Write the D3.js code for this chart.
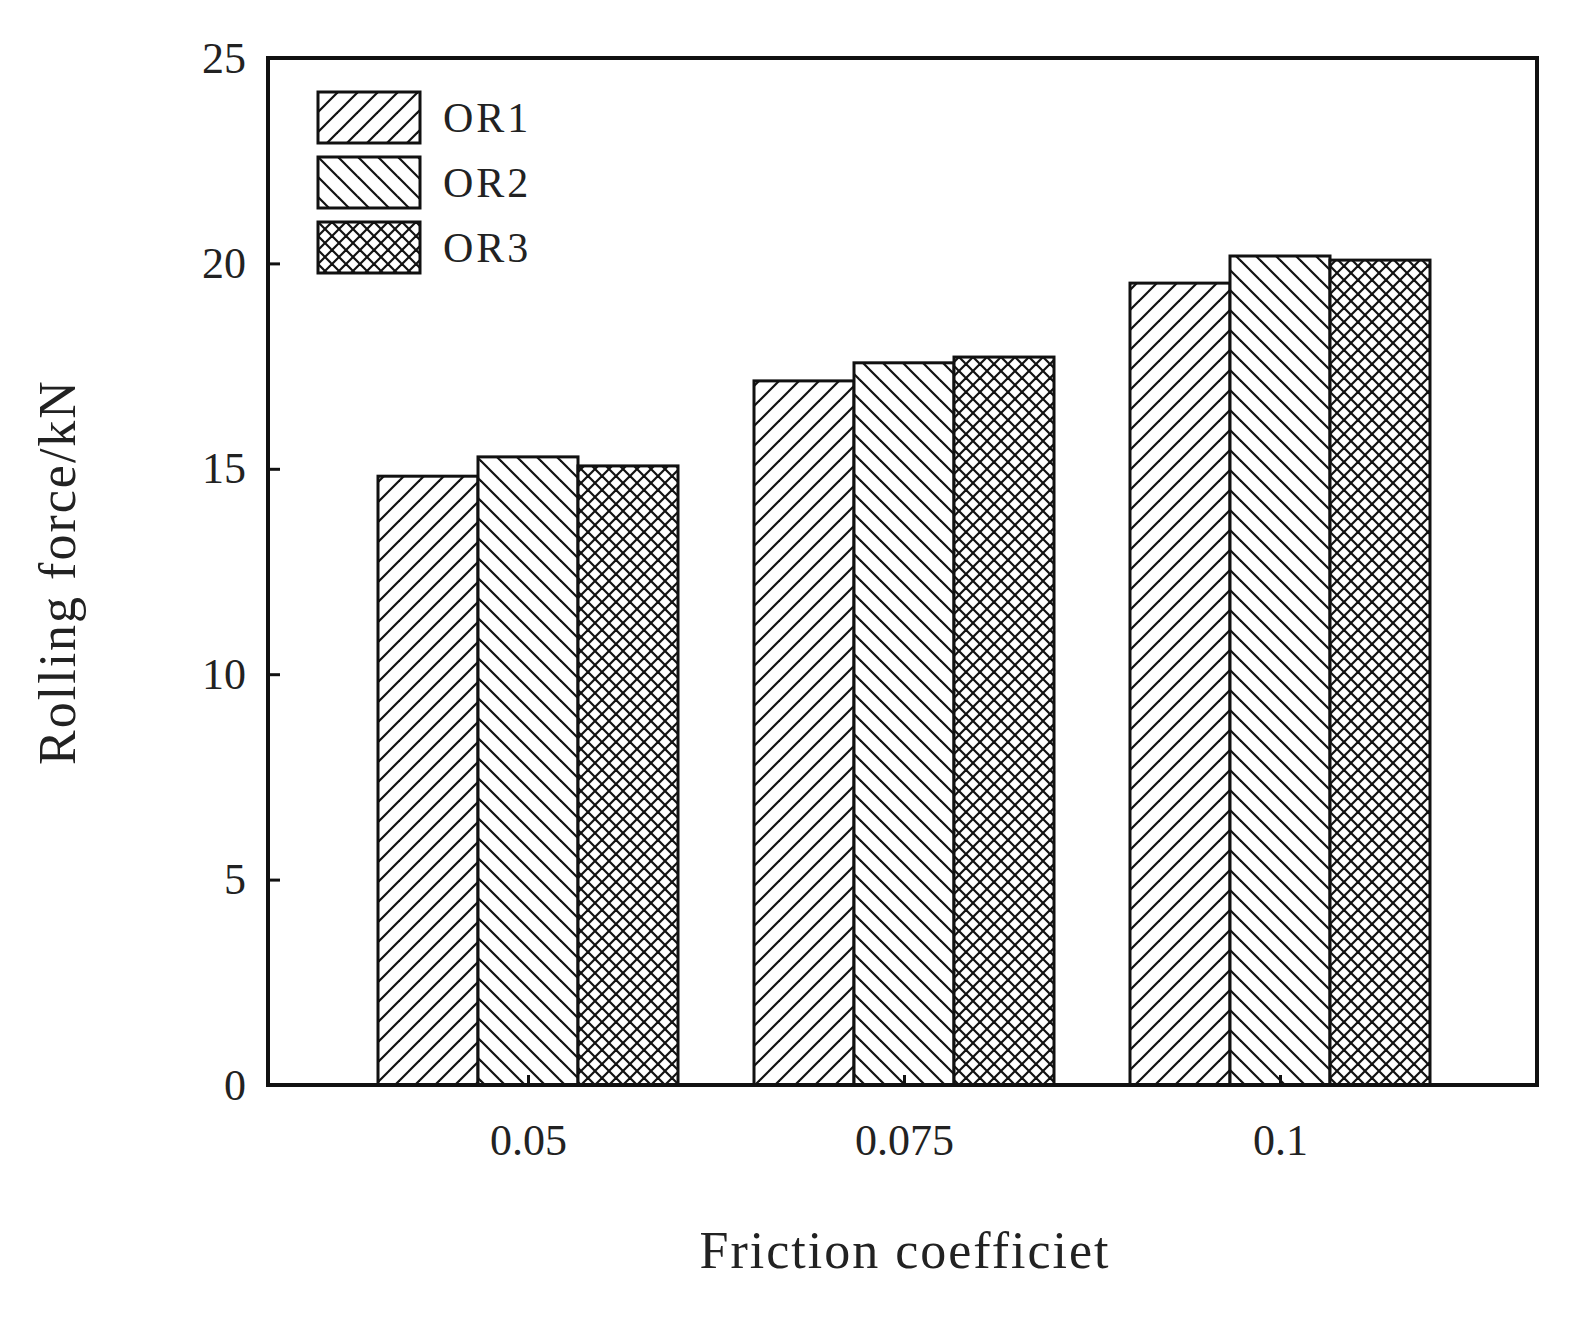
<!DOCTYPE html>
<html><head><meta charset="utf-8">
<script src="https://cdn.jsdelivr.net/npm/d3@7"></script>
<style>body{margin:0;background:#fff}</style>
</head><body>
<svg id="chart" width="1588" height="1323"></svg>
<script>
// chart data
var categories = ['0.05', '0.075', '0.1'];
var seriesNames = ['OR1', 'OR2', 'OR3'];
var or1 = [14.82, 17.14, 19.52];
var or2 = [15.29, 17.58, 20.18];
var or3 = [15.07, 17.72, 20.08];
var yTicks = [0, 5, 10, 15, 20, 25];

var svg = d3.select('#chart');
var plotL = 268, plotR = 1537, plotT = 58, plotB = 1085;
var font = '"Liberation Serif", "DejaVu Serif", serif';

// ***** Patterns ***** //
var defs = svg.append('defs');
function hatch(id, size, paths) {
    var p = defs.append('pattern').attr('id', id).attr('patternUnits', 'userSpaceOnUse')
        .attr('width', size).attr('height', size);
    p.append('rect').attr('width', size).attr('height', size).attr('fill', '#fff');
    paths.forEach(d => p.append('path').attr('d', d).attr('stroke', '#111').attr('stroke-width', 2.2));
}
var s = 20;
hatch('p1', s, ['M0,' + s + 'L' + s + ',0', 'M-5,5L5,-5', 'M' + (s - 5) + ',' + (s + 5) + 'L' + (s + 5) + ',' + (s - 5)]);
hatch('p2', s, ['M0,0L' + s + ',' + s, 'M-5,' + (s - 5) + 'L5,' + (s + 5), 'M' + (s - 5) + ',-5L' + (s + 5) + ',5']);
var c = 14;
hatch('p3', c, ['M0,' + c + 'L' + c + ',0', 'M0,0L' + c + ',' + c, 'M-4,4L4,-4', 'M' + (c - 4) + ',' + (c + 4) + 'L' + (c + 4) + ',' + (c - 4),
    'M-4,' + (c - 4) + 'L4,' + (c + 4), 'M' + (c - 4) + ',-4L' + (c + 4) + ',4']);
var fills = ['url(#p1)', 'url(#p2)', 'url(#p3)'];

// ***** Scales ***** //
var y = d3.scaleLinear().domain([0, 25]).range([plotB, plotT]);
var x = d3.scalePoint().domain(categories).range([528, 1280]);
var sub = d3.scaleBand().domain(seriesNames).range([-150, 150]).padding(0);

var series = [or1, or2, or3];
series.forEach(function (vals, k) {
    svg.append('g').selectAll('rect').data(vals).enter().append('rect')
        .attr('x', (d, i) => x(categories[i]) + sub(seriesNames[k]))
        .attr('y', d => y(d))
        .attr('width', sub.bandwidth())
        .attr('height', d => y(0) - y(d))
        .attr('fill', fills[k]).attr('stroke', '#111').attr('stroke-width', 3);
});

// ***** Axes ***** //
var yAxis = svg.append('g').attr('transform', 'translate(' + plotL + ',0)')
    .call(d3.axisLeft(y).tickValues(yTicks).tickSize(-12).tickPadding(22).tickFormat(d3.format('d')));
var xAxis = svg.append('g').attr('transform', 'translate(0,' + plotB + ')')
    .call(d3.axisBottom(x).tickSize(-10).tickPadding(30));
[yAxis, xAxis].forEach(function (a) {
    a.select('.domain').remove();
    a.selectAll('line').attr('stroke', '#111').attr('stroke-width', 3);
    a.selectAll('text').attr('font-family', font).attr('font-size', 44).attr('fill', '#222');
});
xAxis.selectAll('text').attr('dy', '0.9em');

svg.append('rect').attr('x', plotL).attr('y', plotT).attr('width', plotR - plotL).attr('height', plotB - plotT)
    .attr('fill', 'none').attr('stroke', '#111').attr('stroke-width', 4);

svg.append('text').attr('x', 905).attr('y', 1268).attr('text-anchor', 'middle')
    .attr('font-family', font).attr('font-size', 52).attr('letter-spacing', 2).attr('fill', '#222')
    .text('Friction coefficiet');
svg.append('text').attr('transform', 'translate(75,572) rotate(-90)').attr('text-anchor', 'middle')
    .attr('font-family', font).attr('font-size', 52).attr('letter-spacing', 2).attr('fill', '#222')
    .text('Rolling force/kN');

// ***** Legend ***** //
var lg = svg.append('g').selectAll('g').data(seriesNames).enter().append('g')
    .attr('transform', (d, i) => 'translate(318,' + (92 + i * 65) + ')');
lg.append('rect').attr('width', 102).attr('height', 51).attr('fill', (d, i) => fills[i])
    .attr('stroke', '#111').attr('stroke-width', 3);
lg.append('text').attr('x', 125).attr('y', 40).attr('font-family', font).attr('font-size', 42)
    .attr('letter-spacing', 3).attr('fill', '#222').text(d => d);
</script>
</body></html>
